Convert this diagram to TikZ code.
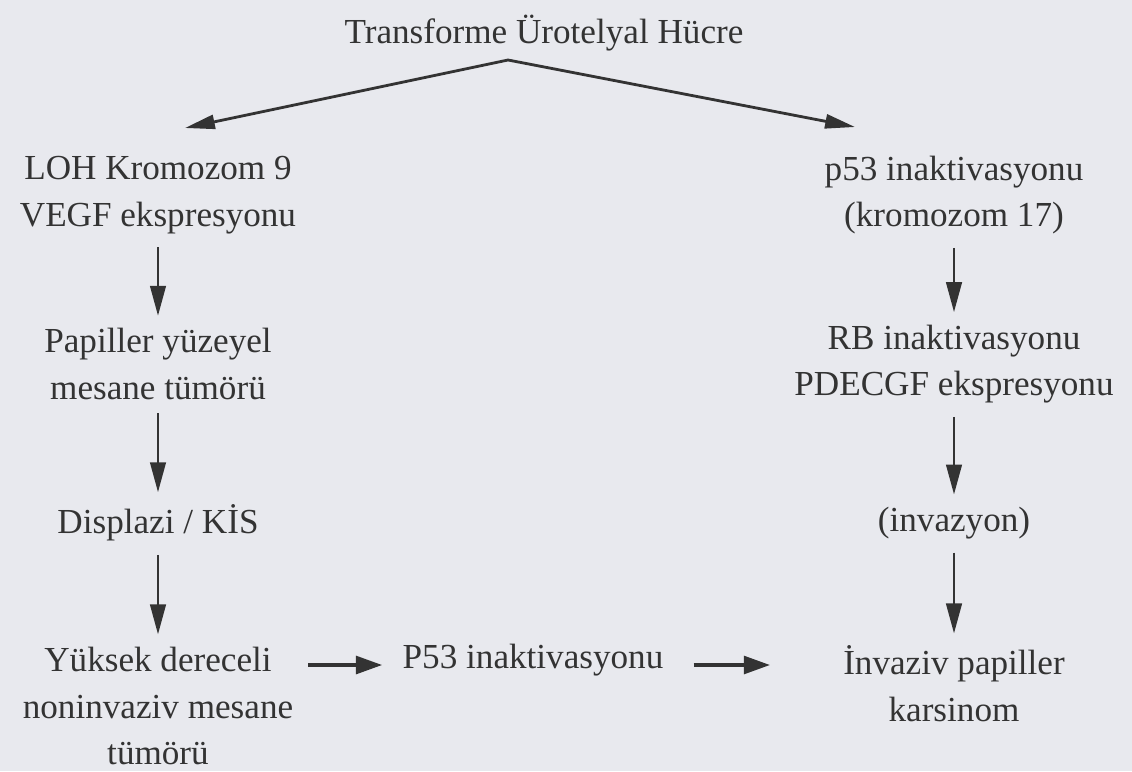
\documentclass[tikz,border=0pt]{standalone}
\usepackage{fontspec}
\setmainfont{Liberation Serif}
\usepackage{tikz}
\usetikzlibrary{arrows.meta}
\definecolor{ScanPaper}{HTML}{E8E9EE}
\definecolor{ScanInk}{HTML}{333333}

\begin{document}
\begin{tikzpicture}[x=.02cm,y=-.02cm,
  lbl/.style={align=center,text=ScanInk,inner sep=2pt,font=\fontsize{20}{26.6}\selectfont},
  down/.style={ScanInk,line width=1.1pt,-{Triangle[length=17pt,width=9pt]},shorten <=5.5pt,shorten >=5pt},
  side/.style={ScanInk,line width=2.3pt,-{Triangle[length=15pt,width=10pt]}},
  split/.style={ScanInk,line width=1.6pt,line join=miter,{Triangle[length=17pt,width=8pt]}-{Triangle[length=17pt,width=8pt]}}]
\fill[ScanPaper] (0,0) rectangle (1132,771);
\useasboundingbox (0,0) rectangle (1132,771);
% top
\node[lbl] (cell) at (544,33) {Transforme Ürotelyal Hücre};
\coordinate (apex) at (508,60);\coordinate (tipL) at (185,128);\coordinate (tipR) at (855,127);
\draw[split] (tipL) -- (apex) -- (tipR);
% left branch
\node[lbl] (loh) at (158,195) {LOH Kromozom 9\\VEGF ekspresyonu};
\node[lbl] (papil) at (158,364) {Papiller yüzeyel\\mesane tümörü};
\node[lbl] (displ) at (158,523) {Displazi / KİS};
\node[lbl] (yuksek) at (158,706) {Yüksek dereceli\\noninvaziv mesane\\tümörü};
% right branch
\node[lbl] (pelli) at (954,195) {p53 inaktivasyonu\\(kromozom 17)};
\node[lbl] (rb) at (954,364) {RB inaktivasyonu\\PDECGF ekspresyonu};
\node[lbl] (inv) at (954,523) {(invazyon)};
\node[lbl] (karsi) at (954,684) {İnvaziv papiller\\karsinom};
\node[lbl] (ptr) at (533,660) {P53 inaktivasyonu};
\draw[down] (loh) -- (papil);\draw[down] (papil) -- (displ);\draw[down] (displ) -- (yuksek);
\draw[down] (pelli) -- (rb);\draw[down] (rb) -- (inv);\draw[down] (inv) -- (karsi);
\draw[side,shorten <=6.5pt,shorten >=9.4pt] ([yshift=-.1cm]yuksek.east |- ptr) -- ([yshift=-.1cm]ptr.west);
\draw[side,shorten <=15pt,shorten >=39.4pt] ([yshift=-.1cm]ptr.east) -- ([yshift=-.1cm]karsi.west |- ptr);
\end{tikzpicture}
\end{document}
